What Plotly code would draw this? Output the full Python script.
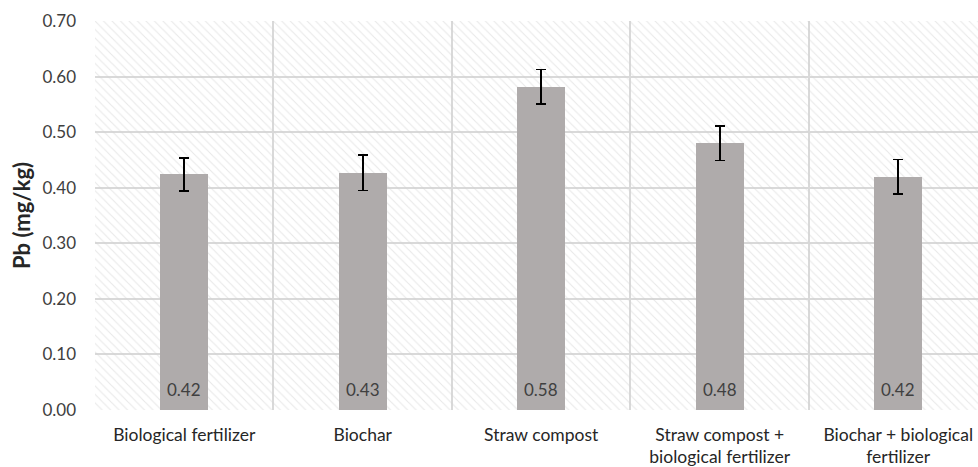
import plotly.graph_objects as go

categories = ["Biological fertilizer", "Biochar", "Straw compost",
              "Straw compost +<br>biological fertilizer", "Biochar + biological<br>fertilizer"]
pb_values = [0.424, 0.427, 0.582, 0.480, 0.420]
pb_errors = [0.030, 0.032, 0.031, 0.031, 0.031]
y_ticks = [0.0, 0.1, 0.2, 0.3, 0.4, 0.5, 0.6, 0.7]
y_max = 0.70

FONT = "Lato"
fig = go.Figure()

# hatched plot background (one full-width cell per category)
fig.add_trace(go.Bar(
    x=categories, y=[y_max] * len(categories), width=1.0,
    marker=dict(color="rgba(0,0,0,0)", line=dict(width=0),
                pattern=dict(shape="\\", size=6, solidity=0.18,
                             fgcolor="#d2d2d2", bgcolor="rgba(0,0,0,0)", fillmode="overlay")),
    hoverinfo="skip", showlegend=False,
))

fig.add_trace(go.Bar(
    x=categories, y=pb_values, width=0.27,
    marker=dict(color="#AFABAB", line=dict(width=0)),
    error_y=dict(type="data", array=pb_errors, visible=True, color="#000000",
                 thickness=1.6, width=5),
    showlegend=False,
))

for c, v in zip(categories, pb_values):
    fig.add_annotation(x=c, y=0, yref="y", xref="x", text=f"{v:.2f}",
                       showarrow=False, yanchor="bottom", yshift=8,
                       font=dict(family=FONT, size=17, color="#404040"))

fig.update_layout(
    width=978, height=467,
    margin=dict(l=95, r=0, t=21, b=57),
    paper_bgcolor="white", plot_bgcolor="white",
    barmode="overlay", bargap=0,
    font=dict(family=FONT, size=17, color="#404040"),
)
fig.update_xaxes(
    type="category", range=[-0.5, 4.447], tickson="boundaries",
    showgrid=True, gridcolor="#d9d9d9", gridwidth=2,
    ticks="", showline=False, zeroline=False, automargin=False,
    ticklabelstandoff=12,
    tickfont=dict(family=FONT, size=17.5, color="#262626"),
    fixedrange=True,
)
fig.update_yaxes(
    range=[0, y_max], tickvals=y_ticks, ticktext=[f"{t:.2f}" for t in y_ticks],
    showgrid=True, gridcolor="#d9d9d9", gridwidth=2, zeroline=False,
    ticks="", ticklabelstandoff=18, automargin=False,
    tickfont=dict(family=FONT, size=17, color="#404040"),
    title=dict(text="<b>Pb (mg/kg)</b>", font=dict(family=FONT, size=22, color="#262626"), standoff=5),
)

fig.write_html("out.html", config={"displayModeBar": False},
               post_script="document.body.style.margin='0';document.body.style.overflow='hidden';")
